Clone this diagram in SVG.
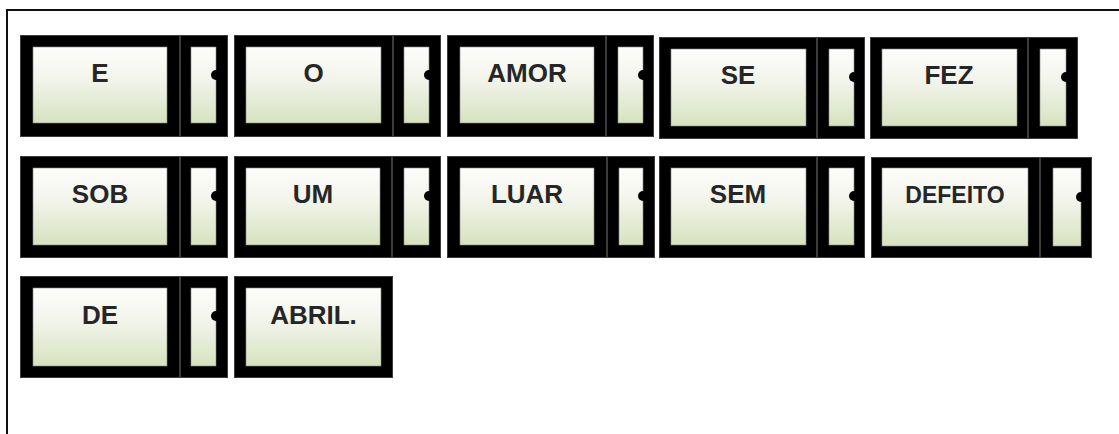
<svg xmlns="http://www.w3.org/2000/svg" width="1119" height="434" viewBox="0 0 1119 434">
  <defs>
    <linearGradient id="fillGrad" x1="0" y1="0" x2="0" y2="1">
      <stop offset="0" stop-color="#fdfdfc"/>
      <stop offset="0.4" stop-color="#f3f5ec"/>
      <stop offset="1" stop-color="#d7e2bf"/>
    </linearGradient>
  </defs>
  <style>
    .frame { fill: none; stroke: #111; stroke-width: 2; }
    .outer { fill: #000; stroke: #3c3c3c; stroke-width: 1; }
    .inner { fill: url(#fillGrad); stroke: #8a8a8a; stroke-width: 0.6; }
    .dot { fill: #000; }
    .label { font-family: "Liberation Sans", Arial, sans-serif; font-weight: bold; font-size: 26px; fill: #262626; text-anchor: middle; }
    .small { font-size: 23px; }
  </style>

  <rect x="0" y="0" width="1119" height="434" fill="#fff"/>
  <!-- page frame -->
  <path class="frame" d="M7 434 V10 H1119"/>

  <!-- word tiles: main box + side tab with a notch dot -->
  <g id="node-e">
    <rect class="outer" x="20.5" y="35.5" width="159" height="101"/>
    <rect class="inner" x="33" y="47" width="134" height="76"/>
    <rect class="outer" x="180.5" y="35.5" width="47" height="101"/>
    <rect class="inner" x="191" y="47" width="25" height="76"/>
    <circle class="dot" cx="216" cy="75" r="5"/>
    <text class="label" x="100" y="82">E</text>
  </g>
  <g id="node-o">
    <rect class="outer" x="234.5" y="35.5" width="158" height="101"/>
    <rect class="inner" x="246" y="47" width="135" height="76"/>
    <rect class="outer" x="393.5" y="35.5" width="47" height="101"/>
    <rect class="inner" x="404" y="47" width="25" height="76"/>
    <circle class="dot" cx="429" cy="75" r="5"/>
    <text class="label" x="313.5" y="82">O</text>
  </g>
  <g id="node-amor">
    <rect class="outer" x="447.5" y="35.5" width="158" height="101"/>
    <rect class="inner" x="460" y="47" width="134" height="76"/>
    <rect class="outer" x="606.5" y="35.5" width="47" height="101"/>
    <rect class="inner" x="618" y="47" width="25" height="76"/>
    <circle class="dot" cx="643" cy="75" r="5"/>
    <text class="label" x="527" y="82">AMOR</text>
  </g>
  <g id="node-se">
    <rect class="outer" x="659.5" y="37.5" width="157" height="101"/>
    <rect class="inner" x="671" y="49" width="135" height="77"/>
    <rect class="outer" x="817.5" y="37.5" width="47" height="101"/>
    <rect class="inner" x="829" y="49" width="25" height="77"/>
    <circle class="dot" cx="854" cy="77" r="5"/>
    <text class="label" x="738" y="84">SE</text>
  </g>
  <g id="node-fez">
    <rect class="outer" x="870.5" y="37.5" width="157" height="101"/>
    <rect class="inner" x="882" y="49" width="135" height="77"/>
    <rect class="outer" x="1028.5" y="37.5" width="49" height="101"/>
    <rect class="inner" x="1040" y="49" width="26" height="77"/>
    <circle class="dot" cx="1066" cy="77" r="5"/>
    <text class="label" x="949" y="84">FEZ</text>
  </g>

  <g id="node-sob">
    <rect class="outer" x="20.5" y="156.5" width="159" height="101"/>
    <rect class="inner" x="33" y="168" width="134" height="77"/>
    <rect class="outer" x="180.5" y="156.5" width="47" height="101"/>
    <rect class="inner" x="191" y="168" width="25" height="77"/>
    <circle class="dot" cx="216" cy="196" r="5"/>
    <text class="label" x="100" y="203">SOB</text>
  </g>
  <g id="node-um">
    <rect class="outer" x="234.5" y="156.5" width="157" height="101"/>
    <rect class="inner" x="246" y="168" width="134" height="77"/>
    <rect class="outer" x="392.5" y="156.5" width="48" height="101"/>
    <rect class="inner" x="404" y="168" width="25" height="77"/>
    <circle class="dot" cx="429" cy="196" r="5"/>
    <text class="label" x="313" y="203">UM</text>
  </g>
  <g id="node-luar">
    <rect class="outer" x="447.5" y="156.5" width="159" height="101"/>
    <rect class="inner" x="460" y="168" width="134" height="77"/>
    <rect class="outer" x="607.5" y="156.5" width="47" height="101"/>
    <rect class="inner" x="619" y="168" width="24" height="77"/>
    <circle class="dot" cx="643" cy="196" r="5"/>
    <text class="label" x="527" y="203">LUAR</text>
  </g>
  <g id="node-sem">
    <rect class="outer" x="659.5" y="156.5" width="157" height="101"/>
    <rect class="inner" x="671" y="168" width="135" height="77"/>
    <rect class="outer" x="817.5" y="156.5" width="47" height="101"/>
    <rect class="inner" x="829" y="168" width="25" height="77"/>
    <circle class="dot" cx="854" cy="196" r="5"/>
    <text class="label" x="738" y="203">SEM</text>
  </g>
  <g id="node-defeito">
    <rect class="outer" x="871.5" y="157.5" width="168" height="100"/>
    <rect class="inner" x="882" y="168" width="146" height="78"/>
    <rect class="outer" x="1040.5" y="157.5" width="51" height="100"/>
    <rect class="inner" x="1053" y="168" width="28" height="78"/>
    <circle class="dot" cx="1081" cy="197" r="5"/>
    <text class="label small" x="955" y="203">DEFEITO</text>
  </g>

  <g id="node-de">
    <rect class="outer" x="20.5" y="276.5" width="159" height="101"/>
    <rect class="inner" x="33" y="288" width="134" height="78"/>
    <rect class="outer" x="180.5" y="276.5" width="47" height="101"/>
    <rect class="inner" x="191" y="288" width="25" height="78"/>
    <circle class="dot" cx="216" cy="316" r="5"/>
    <text class="label" x="100" y="324">DE</text>
  </g>
  <g id="node-abril">
    <rect class="outer" x="234.5" y="276.5" width="158" height="101"/>
    <rect class="inner" x="246" y="288" width="135" height="78"/>
    <text class="label" x="313.5" y="324">ABRIL.</text>
  </g>

  <!-- no connectors: tiles sit side by side -->
  <g id="connectors"/>
</svg>
